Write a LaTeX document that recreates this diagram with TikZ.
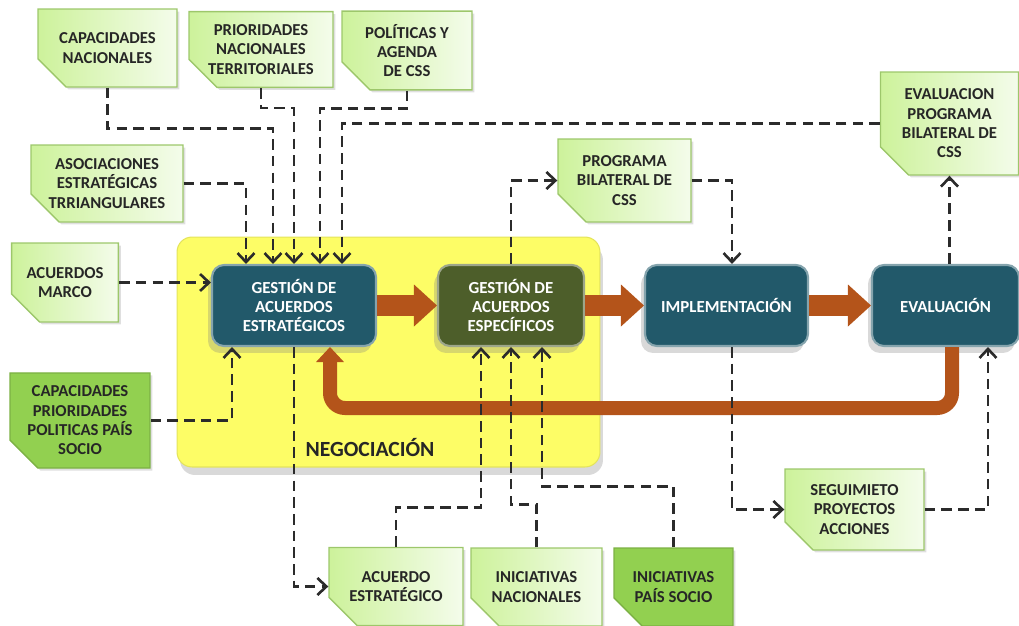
\documentclass[tikz,border=0pt]{standalone}
\usepackage{fontspec}
\setmainfont{Carlito}
\usetikzlibrary{arrows.meta,shapes.misc,shadows}

\definecolor{verdeclaro}{HTML}{CDF29B}
\definecolor{verdeblanco}{HTML}{F4FCEB}
\definecolor{verdeborde}{HTML}{9DC76B}
\definecolor{verdeoscuro}{HTML}{92D050}
\definecolor{petroleo}{HTML}{22596A}
\definecolor{oliva}{HTML}{4D5E2A}
\definecolor{amarillo}{HTML}{FDFD66}
\definecolor{naranja}{HTML}{B4541A}
\definecolor{gris}{HTML}{2B2B2B}

\begin{document}
\begin{tikzpicture}[x=0.02cm, y=-0.02cm,
    nota/.style={chamfered rectangle, chamfered rectangle corners=south west,
        chamfered rectangle xsep=0.3cm, chamfered rectangle ysep=0.26cm,
        left color=verdeclaro, right color=verdeblanco, draw=verdeborde, line width=0.8pt,
        inner sep=0pt, align=center, text=black!85,
        font=\fontsize{9.5}{11}\selectfont\bfseries,
        drop shadow={opacity=0.25, shadow xshift=0.05cm, shadow yshift=-0.05cm},
        path picture={\filldraw[fill=verdeborde!85, draw=verdeborde]
            ([yshift=0.26cm]path picture bounding box.south west) --
            ([xshift=0.3cm]path picture bounding box.south west) --
            ([xshift=0.3cm,yshift=0.26cm]path picture bounding box.south west) -- cycle;}},
    notaosc/.style={nota, left color=verdeoscuro, right color=verdeoscuro, draw=verdeoscuro!85!black},
    etapa/.style={rectangle, rounded corners=0.24cm, fill=petroleo, draw=petroleo!55!white,
        line width=1.2pt, text=white, align=center, inner sep=0pt,
        minimum height=1.62cm, font=\fontsize{9.6}{11}\selectfont\bfseries,
        drop shadow={opacity=0.3, shadow xshift=-0.08cm, shadow yshift=-0.14cm}},
    zona/.style={rectangle, rounded corners=0.3cm, fill=amarillo, draw=amarillo!90!black,
        line width=0.6pt, drop shadow={opacity=0.3, shadow xshift=0.06cm, shadow yshift=-0.16cm}},
    bloque/.style={draw=naranja, line width=0.42cm, -{Triangle[length=0.46cm, width=0.84cm, line width=0pt]}},
    retorno/.style={draw=naranja, line width=0.28cm, rounded corners=0.3cm,
        -{Triangle[length=0.3cm, width=0.56cm, line width=0pt]}},
    conector/.style={draw=gris, line width=1.5pt, dash pattern=on 6pt off 3.5pt,
        -{Straight Barb[length=0.18cm, width=0.34cm]}}]

    \useasboundingbox (0,0) rectangle (1019,626);

    \node[zona, minimum width=8.46cm, minimum height=4.6cm] (Z) at (388.5,352) {};
    \node[font=\fontsize{12.3}{14}\selectfont\bfseries, text=black!85] (NG) at (370,447) {NEGOCIACIÓN};

    \node[etapa, minimum width=3.28cm] (E1) at (294,305.5) {GESTIÓN DE\\ACUERDOS\\ESTRATÉGICOS};
    \node[etapa, minimum width=2.92cm, fill=oliva, draw=oliva!55!white] (E2) at (511,305.5) {GESTIÓN DE\\ACUERDOS\\ESPECÍFICOS};
    \node[etapa, minimum width=3.26cm] (E3) at (726.5,305.5) {IMPLEMENTACIÓN};
    \node[etapa, minimum width=2.94cm] (E4) at (945.5,305.5) {EVALUACIÓN};

    \node[nota, minimum width=2.78cm, minimum height=1.56cm] (N1) at (107.5,48) {CAPACIDADES\\NACIONALES};
    \node[nota, minimum width=2.88cm, minimum height=1.50cm] (N2) at (261,49.5) {PRIORIDADES\\NACIONALES\\TERRITORIALES};
    \node[nota, minimum width=2.60cm, minimum height=1.54cm] (N3) at (407,50.5) {POLÍTICAS Y\\AGENDA\\DE CSS};
    \node[nota, minimum width=3.04cm, minimum height=1.54cm] (N4) at (107,183.5) {ASOCIACIONES\\ESTRATÉGICAS\\TRRIANGULARES};
    \node[nota, minimum width=1.92cm, minimum height=1.58cm] (N5) at (65,282.5) {ACUERDOS\\MARCO};
    \node[notaosc, minimum width=2.80cm, minimum height=1.82cm] (N6) at (80,420.5) {CAPACIDADES\\PRIORIDADES\\POLITICAS PAÍS\\SOCIO};
    \node[nota, minimum width=2.66cm, minimum height=1.66cm] (N7) at (624.5,180.5) {PROGRAMA\\BILATERAL DE\\CSS};
    \node[nota, minimum width=2.76cm, minimum height=2.06cm] (N8) at (949.5,123.5) {EVALUACION\\PROGRAMA\\BILATERAL DE\\CSS};
    \node[nota, minimum width=2.78cm, minimum height=1.62cm] (N9) at (854.5,509.5) {SEGUIMIETO\\PROYECTOS\\ACCIONES};
    \node[nota, minimum width=2.68cm, minimum height=1.56cm] (N10) at (396,586.5) {ACUERDO\\ESTRATÉGICO};
    \node[nota, minimum width=2.62cm, minimum height=1.56cm] (N11) at (536.5,587) {INICIATIVAS\\NACIONALES};
    \node[notaosc, minimum width=2.38cm, minimum height=1.56cm] (N12) at (673.5,587) {INICIATIVAS\\PAÍS SOCIO};

    \draw[bloque] (E1.east) -- (E2.west);
    \draw[bloque] (E2.east) -- (E3.west);
    \draw[bloque] (E3.east) -- (E4.west);
    \draw[retorno] (952,0 |- E4.south) -- (952,408) -| (330,0 |- E1.south);

    \draw[conector] (N1.south) -- ++(0,41) -| (273,0 |- E1.north);
    \draw[conector] (N2.south) -- ++(0,20) -| (294,0 |- E1.north);
    \draw[conector] (N3.south) -- ++(0,18) -| (320,0 |- E1.north);
    \draw[conector] (N8.west) -| (342,0 |- E1.north);
    \draw[conector] (N4.east) -| (246,0 |- E1.north);
    \draw[conector] (N5.east) -- (E1.west |- N5.east);
    \draw[conector] (N6.east) -| (232,0 |- E1.south);
    \draw[conector] (294,0 |- E1.south) |- (N10.west);

    \draw[conector] (N10.north) -- ++(0,-39) -| (481,0 |- E2.south);
    \draw[conector] (N11.north) -- ++(0,-43) -| (511,0 |- E2.south);
    \draw[conector] (N12.north) -- ++(0,-61) -| (542,0 |- E2.south);
    \draw[conector] (511,0 |- E2.north) |- (N7.west);
    \draw[conector] (N7.east) -| (732,0 |- E3.north);

    \draw[conector] (732,0 |- E3.south) |- (N9.west);
    \draw[conector] (N9.east) -| (988,0 |- E4.south);
    \draw[conector] (E4.north -| N8.south) -- (N8.south);
\end{tikzpicture}
\end{document}
